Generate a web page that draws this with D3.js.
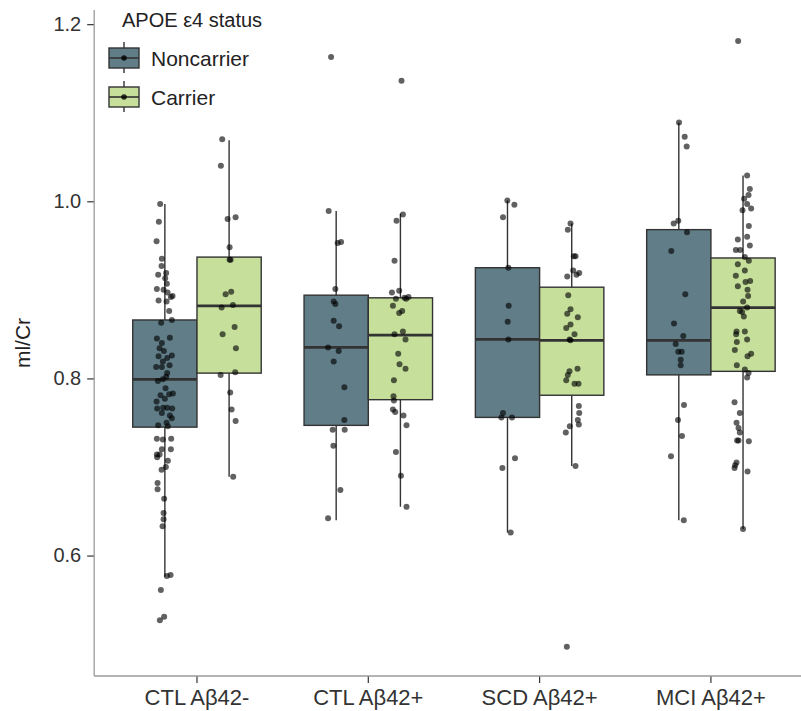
<!DOCTYPE html>
<html>
<head>
<meta charset="utf-8">
<script src="https://cdn.jsdelivr.net/npm/d3@7"></script>
<style>
  html, body { margin: 0; padding: 0; background: #fff; }
  svg { display: block; font-family: "Liberation Sans", Arial, sans-serif; }
</style>
</head>
<body>
<svg id="chart" width="801" height="711"></svg>
<script>
// ---------- data ----------
const categories = ["CTL Aβ42-", "CTL Aβ42+", "SCD Aβ42+", "MCI Aβ42+"];
const statuses = ["Noncarrier", "Carrier"];
const yTicks = [0.6, 0.8, 1.0, 1.2];

// box statistics (per category)
const nonQ1  = [0.745, 0.747, 0.756, 0.804];
const nonMed = [0.799, 0.835, 0.844, 0.843];
const nonQ3  = [0.866, 0.894, 0.925, 0.968];
const nonLo  = [0.576, 0.640, 0.626, 0.640];
const nonHi  = [0.997, 0.989, 1.001, 1.089];
const carQ1  = [0.806, 0.776, 0.781, 0.808];
const carMed = [0.882, 0.849, 0.843, 0.880];
const carQ3  = [0.937, 0.891, 0.903, 0.936];
const carLo  = [0.689, 0.655, 0.701, 0.630];
const carHi  = [1.069, 0.986, 0.975, 1.029];

// individual observations (ml/Cr) and their horizontal jitter (1/171 of a category step)
const ctlNegNon = [0.997,0.977,0.955,0.935,0.927,0.917,0.919,0.913,0.907,0.901,0.900,0.897,0.892,0.893,0.888,0.887,0.876,0.866,0.863,0.845,0.840,0.846,0.834,0.831,0.825,0.823,0.826,0.819,0.813,0.813,0.815,0.806,0.802,0.797,0.799,0.789,0.783,0.781,0.782,0.777,0.774,0.766,0.767,0.767,0.766,0.761,0.758,0.755,0.750,0.747,0.746,0.732,0.731,0.732,0.720,0.720,0.714,0.711,0.714,0.707,0.700,0.697,0.682,0.675,0.664,0.648,0.641,0.633,0.577,0.578,0.561,0.531,0.527];
const ctlNegNonJit = [-4.7,-6,-8.3,-3,-3.3,-6.7,1.3,0.3,2,-8,-1.3,2.7,6,7.7,-6.3,1.7,4.3,7,-3.7,-8,-3,5,-5.3,-1,-6.3,2.3,7,-2,-8.7,-3,4.7,2.3,1.3,-7,-2,0.7,8,-4.3,4.3,0,-8.3,-7.7,-1.7,2.3,7.3,-3,5,7,1.7,-6.7,3,-8,-2,6.3,-3,6,-8,-7.7,-5.3,3,1,-3.3,-7.3,-7.3,-0.7,-1.3,-1.3,-2.3,2,5.7,-4,-0.7,-5];
const ctlNegCar = [1.070,1.040,0.980,0.982,0.948,0.934,0.934,0.895,0.898,0.880,0.883,0.858,0.850,0.834,0.804,0.807,0.784,0.765,0.752,0.689];
const ctlNegCarJit = [-6.9,-8.2,-1.5,6.5,0.5,0.5,1.5,-3.5,2.1,-7.5,3.8,5.5,-6.5,6.8,-8.5,6.1,1.1,2.5,6.5,4.1];
const ctlPosNon = [1.163,0.989,0.953,0.954,0.901,0.887,0.884,0.865,0.859,0.835,0.831,0.819,0.790,0.753,0.742,0.742,0.724,0.674,0.642];
const ctlPosNonJit = [-5.1,-7.5,1.5,4.9,-0.8,-2.5,-0.8,-2.5,2.9,-8.1,2.5,-2.5,8.2,8.2,-3.5,8.5,-2.8,4.2,-8.1];
const ctlPosCar = [1.136,0.985,0.978,0.933,0.897,0.899,0.890,0.891,0.892,0.890,0.882,0.876,0.874,0.850,0.853,0.844,0.828,0.816,0.811,0.798,0.780,0.775,0.765,0.762,0.758,0.747,0.717,0.690,0.655];
const ctlPosCarJit = [1.1,2.5,-3.9,-5.9,-8.5,-1.2,-4.5,4.1,8.1,5.8,-7.5,1.8,-1.2,-5.9,2.5,5.1,-2.2,-0.9,5.1,-6.5,-6.9,-6.5,-7.5,-5.2,3.1,6.1,-4.5,0.5,6.1];
const scdPosNon = [1.001,0.996,0.982,0.925,0.882,0.864,0.844,0.761,0.756,0.756,0.710,0.699,0.626];
const scdPosNonJit = [-0.1,6.9,-4.5,0.9,1.2,0.2,0.9,-4.5,-6.1,4.5,7.5,-5.1,3.2];
const scdPosCar = [0.975,0.968,0.938,0.938,0.922,0.915,0.917,0.919,0.894,0.873,0.878,0.869,0.857,0.861,0.850,0.843,0.844,0.808,0.811,0.804,0.798,0.794,0.794,0.769,0.761,0.753,0.748,0.746,0.739,0.701,0.497];
const scdPosCarJit = [-1.2,-3.9,2.1,3.8,1.5,-4.5,4.8,7.5,-3.5,-4.5,-1.2,6.1,-5.5,-1.2,2.8,-1.2,-2.2,-2.2,5.8,-3.9,-5.5,2.8,6.8,7.1,7.5,6.1,7.1,-1.9,-5.9,3.8,-4.9];
const mciPosNon = [1.089,1.073,1.062,0.975,0.978,0.965,0.944,0.895,0.862,0.848,0.839,0.830,0.830,0.821,0.815,0.770,0.753,0.735,0.712,0.640];
const mciPosNonJit = [0.2,5.9,7.9,-5.1,-0.5,8.2,-7.5,6.5,-4.8,4.5,-3.1,-0.5,2.9,1.9,1.9,5.2,-0.8,3.2,-7.8,5];
const mciPosCar = [1.181,1.029,1.014,1.007,1.003,0.992,0.997,0.990,0.972,0.957,0.960,0.950,0.945,0.945,0.937,0.933,0.929,0.922,0.916,0.909,0.910,0.904,0.900,0.893,0.887,0.876,0.880,0.870,0.875,0.853,0.850,0.853,0.841,0.844,0.832,0.825,0.828,0.815,0.810,0.806,0.801,0.773,0.761,0.750,0.744,0.739,0.730,0.730,0.729,0.705,0.702,0.699,0.695,0.630];
const mciPosCarJit = [-4.9,4.1,6.8,5.5,1.1,8.1,4.1,-0.5,5.8,-5.2,4.1,6.8,-7.2,-2.9,1.8,5.8,-5.2,1.8,-7.2,2.5,7.1,-5.2,4.5,5.1,0.1,-3.2,4.1,0.8,-0.9,-6.5,-6.9,1.8,-6.2,4.1,-8.2,4.5,8.1,-6.2,1.8,5.5,4.1,-8.5,-3.2,-6.5,-4.5,-3.2,-5.9,-4.5,5.8,-6.5,-7.9,-8.5,4.5,0];

// ---------- assemble ----------
const pointSets = [
  [ctlNegNon, ctlNegNonJit, 0, 0], [ctlNegCar, ctlNegCarJit, 0, 1],
  [ctlPosNon, ctlPosNonJit, 1, 0], [ctlPosCar, ctlPosCarJit, 1, 1],
  [scdPosNon, scdPosNonJit, 2, 0], [scdPosCar, scdPosCarJit, 2, 1],
  [mciPosNon, mciPosNonJit, 3, 0], [mciPosCar, mciPosCarJit, 3, 1]
];
const points = [];
pointSets.forEach(([vals, jit, ci, si]) => {
  vals.forEach((v, i) => points.push({cat: categories[ci], status: statuses[si], value: v, jitter: jit[i]}));
});
const boxes = [];
categories.forEach((c, i) => {
  boxes.push({cat: c, status: "Noncarrier", q1: nonQ1[i], med: nonMed[i], q3: nonQ3[i], lo: nonLo[i], hi: nonHi[i]});
  boxes.push({cat: c, status: "Carrier", q1: carQ1[i], med: carMed[i], q3: carQ3[i], lo: carLo[i], hi: carHi[i]});
});

// ---------- layout ----------
const W = 801, H = 711;
const panel = {left: 94.2, right: 813.7, top: 10, bottom: 676};
const colors = {Noncarrier: "#607d88", Carrier: "#c6e09c"};
const ink = "#333333";

const svg = d3.select("#chart");

const x0 = d3.scaleBand().domain(categories).range([panel.left, panel.right])
  .paddingInner(0.25).paddingOuter(0.225);
const x1 = d3.scaleBand().domain(statuses).range([0, x0.bandwidth()]);
const y = d3.scaleLinear().domain([0.464, 1.216]).range([panel.bottom, panel.top]);
const jitterToPx = d3.scaleLinear().domain([0, 171.3]).range([0, x0.step()]);

const cx = d => x0(d.cat) + x1(d.status) + x1.bandwidth() / 2;

// boxes
const g = svg.append("g");
const bg = g.selectAll("g.box").data(boxes).join("g").attr("class", "box");
bg.append("line")
  .attr("x1", cx).attr("x2", cx)
  .attr("y1", d => y(d.hi)).attr("y2", d => y(d.lo))
  .attr("stroke", ink).attr("stroke-width", 1.4);
bg.append("rect")
  .attr("x", d => x0(d.cat) + x1(d.status))
  .attr("width", x1.bandwidth())
  .attr("y", d => y(d.q3))
  .attr("height", d => y(d.q1) - y(d.q3))
  .attr("fill", d => colors[d.status])
  .attr("stroke", ink).attr("stroke-width", 1.4);
bg.append("line")
  .attr("x1", d => x0(d.cat) + x1(d.status))
  .attr("x2", d => x0(d.cat) + x1(d.status) + x1.bandwidth())
  .attr("y1", d => y(d.med)).attr("y2", d => y(d.med))
  .attr("stroke", ink).attr("stroke-width", 2.8);

// points
g.selectAll("circle.pt").data(points).join("circle").attr("class", "pt")
  .attr("cx", d => cx(d) + jitterToPx(d.jitter))
  .attr("cy", d => y(d.value))
  .attr("r", 3)
  .attr("fill", "#000").attr("fill-opacity", 0.62);

// axes
const yAxis = svg.append("g").attr("transform", `translate(${panel.left},0)`)
  .call(d3.axisLeft(y).tickValues(yTicks).tickFormat(d3.format(".1f")).tickSize(7).tickPadding(6));
const xAxis = svg.append("g").attr("transform", `translate(0,${panel.bottom})`)
  .call(d3.axisBottom(x0).tickSize(7).tickPadding(6));
[yAxis, xAxis].forEach(a => {
  a.select(".domain").remove();
  a.selectAll(".tick line").attr("stroke", ink).attr("stroke-width", 1.2);
  a.selectAll(".tick text").attr("fill", "#333").attr("font-family", "Liberation Sans, Arial, sans-serif");
});
yAxis.selectAll(".tick text").attr("font-size", 20);
xAxis.selectAll(".tick text").attr("font-size", 22).attr("dy", "0.72em");
// axis lines
svg.append("line").attr("x1", panel.left).attr("x2", panel.left)
  .attr("y1", panel.top).attr("y2", panel.bottom)
  .attr("stroke", "#9a9a9a").attr("stroke-width", 1.3);
svg.append("line").attr("x1", panel.left).attr("x2", W)
  .attr("y1", panel.bottom).attr("y2", panel.bottom)
  .attr("stroke", "#9a9a9a").attr("stroke-width", 1.3);

// y title
svg.append("text")
  .attr("transform", `translate(30,${(panel.top + panel.bottom) / 2}) rotate(-90)`)
  .attr("text-anchor", "middle")
  .attr("font-size", 21).attr("fill", "#222")
  .text("ml/Cr");

// legend
const lg = svg.append("g");
lg.append("text").attr("x", 122).attr("y", 27).attr("font-size", 20).attr("fill", "#222")
  .text("APOE ε4 status");
const keyRows = lg.selectAll("g.key").data(statuses).join("g").attr("class", "key")
  .attr("transform", (d, i) => `translate(124,${58 + i * 39})`);
keyRows.append("line").attr("x1", 0).attr("x2", 0).attr("y1", -16).attr("y2", 15)
  .attr("stroke", ink).attr("stroke-width", 1.4);
keyRows.append("rect").attr("x", -15).attr("y", -10).attr("width", 30).attr("height", 20)
  .attr("fill", d => colors[d]).attr("stroke", ink).attr("stroke-width", 1.4);
keyRows.append("line").attr("x1", -15).attr("x2", 15).attr("y1", 0).attr("y2", 0)
  .attr("stroke", ink).attr("stroke-width", 1.6);
keyRows.append("circle").attr("r", 2.8).attr("fill", "#000").attr("fill-opacity", 0.8);
keyRows.append("text").attr("x", 27).attr("y", 7.5).attr("font-size", 21).attr("fill", "#222")
  .text(d => d);
</script>
</body>
</html>
